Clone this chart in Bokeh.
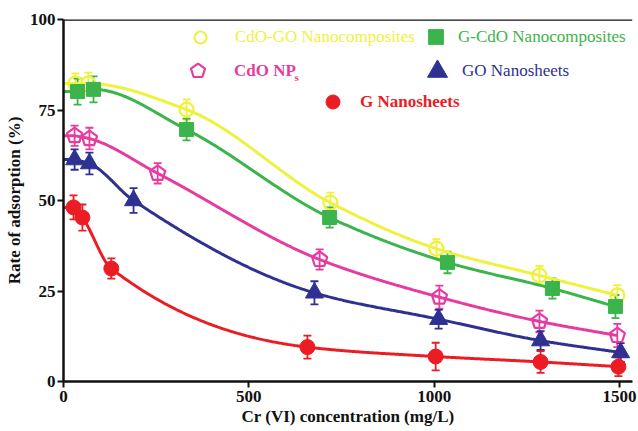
import numpy as np
from bokeh.plotting import figure
from bokeh.models import (ColumnDataSource, Whisker, TeeHead, Legend, LegendItem,
                          Span, Label, Range1d, FixedTicker)
from bokeh.embed import file_html
from bokeh.resources import INLINE

# ---------------- data ----------------
cdo_go_x = [32, 67, 332, 720, 1006, 1284, 1494]
cdo_go_y = [82.3, 82.3, 75.1, 49.4, 36.7, 29.3, 23.8]
cdo_go_e = [2.8, 3.0, 2.8, 2.8, 2.6, 2.6, 2.8]

g_cdo_x = [38, 81, 332, 718, 1036, 1319, 1489]
g_cdo_y = [80.1, 80.7, 69.6, 45.3, 32.9, 25.7, 20.7]
g_cdo_e = [3.6, 3.6, 3.0, 2.8, 3.0, 2.8, 3.2]

cdo_np_x = [30, 70, 254, 691, 1014, 1284, 1494]
cdo_np_y = [67.9, 67.1, 57.5, 33.7, 23.3, 16.6, 12.7]
cdo_np_e = [2.8, 3.0, 2.8, 2.8, 3.2, 3.0, 3.2]

go_x = [30, 70, 189, 677, 1012, 1287, 1503]
go_y = [61.3, 60.2, 50.0, 24.5, 17.2, 11.3, 8.0]
go_e = [2.8, 3.0, 3.4, 3.2, 2.6, 2.6, 2.6]

g_x = [27, 51, 129, 658, 1004, 1287, 1497]
g_y = [48.1, 45.3, 31.2, 9.5, 6.9, 5.4, 4.1]
g_e = [3.3, 3.6, 2.8, 3.2, 3.8, 3.0, 2.6]

x_ticks = [0, 500, 1000, 1500]
y_ticks = [0, 25, 50, 75, 100]

labels = ["CdO-GO Nanocomposites", "G-CdO Nanocomposites", "CdO NP", "GO Nanosheets", "G Nanosheets"]
colors = ["#eef23c", "#3bb44b", "#e63c9f", "#2e3192", "#ec1c24"]

FONT = "Liberation Serif"


def pchip(x, y, xs):
    x = np.asarray(x, float)
    y = np.asarray(y, float)
    h = np.diff(x)
    d = np.diff(y) / h
    n = len(x)
    m = np.zeros(n)
    m[0] = d[0]
    m[-1] = d[-1]
    for k in range(1, n - 1):
        if d[k - 1] * d[k] > 0:
            w1 = 2 * h[k] + h[k - 1]
            w2 = h[k] + 2 * h[k - 1]
            m[k] = (w1 + w2) / (w1 / d[k - 1] + w2 / d[k])
    idx = np.clip(np.searchsorted(x, xs) - 1, 0, n - 2)
    t = (xs - x[idx]) / h[idx]
    h00 = 2 * t**3 - 3 * t**2 + 1
    h10 = t**3 - 2 * t**2 + t
    h01 = -2 * t**3 + 3 * t**2
    h11 = t**3 - t**2
    ys = h00 * y[idx] + h10 * h[idx] * m[idx] + h01 * y[idx + 1] + h11 * h[idx] * m[idx + 1]
    ys[xs < x[0]] = y[0]
    return ys


p = figure(width=638, height=431, output_backend="svg", toolbar_location=None,
           x_range=Range1d(0, 1535), y_range=Range1d(0, 100),
           min_border_left=63, min_border_right=6, min_border_top=19, min_border_bottom=50)
p.background_fill_color = "white"
p.border_fill_color = "white"
p.outline_line_color = None
p.xgrid.visible = False
p.ygrid.visible = False

for ax in (p.xaxis[0], p.yaxis[0]):
    ax.axis_line_width = 2.5
    ax.axis_line_color = "#111111"
    ax.major_tick_line_width = 2
    ax.major_tick_line_color = "#111111"
    ax.major_tick_in = 0
    ax.major_tick_out = 6
    ax.minor_tick_line_color = None
    ax.major_label_text_font = FONT
    ax.major_label_text_font_style = "bold"
    ax.major_label_text_font_size = "17px"
    ax.major_label_text_color = "#111111"
    ax.axis_label_text_font = FONT
    ax.axis_label_text_font_style = "bold"
    ax.axis_label_text_font_size = "17px"
    ax.axis_label_text_color = "#111111"

p.xaxis.ticker = FixedTicker(ticks=x_ticks)
p.yaxis.ticker = FixedTicker(ticks=y_ticks)
p.xaxis.axis_label = "Cr (VI) concentration (mg/L)"
p.yaxis.axis_label = "Rate of adsorption (%)"
p.xaxis.major_label_standoff = 3
p.xaxis.axis_label_standoff = 2
p.yaxis.major_label_standoff = 2
p.yaxis.axis_label_standoff = 3

p.add_layout(Span(location=100, dimension="width", line_color="#111111", line_width=2.5))

series = [
    (cdo_go_x, cdo_go_y, cdo_go_e),
    (g_cdo_x, g_cdo_y, g_cdo_e),
    (cdo_np_x, cdo_np_y, cdo_np_e),
    (go_x, go_y, go_e),
    (g_x, g_y, g_e),
]

# curves
for (xs_, ys_, es_), c in zip(series, colors):
    xx = np.linspace(0, xs_[-1], 500)
    p.line(xx, pchip(xs_, ys_, xx), line_color=c, line_width=3)

# error bars
sources = []
for (xs_, ys_, es_), c in zip(series, colors):
    src = ColumnDataSource(dict(x=xs_, y=ys_,
                                upper=[a + b for a, b in zip(ys_, es_)],
                                lower=[a - b for a, b in zip(ys_, es_)]))
    sources.append(src)
    p.add_layout(Whisker(base="x", upper="upper", lower="lower", source=src,
                         line_color=c, line_width=1.8,
                         upper_head=TeeHead(size=8, line_color=c, line_width=1.8),
                         lower_head=TeeHead(size=8, line_color=c, line_width=1.8)))

# markers
r_yel = p.scatter("x", "y", source=sources[0], marker="circle", size=14,
                  fill_color=None, line_color=colors[0], line_width=2.2)
r_grn = p.scatter("x", "y", source=sources[1], marker="square", size=14,
                  fill_color=colors[1], line_color=colors[1])
r_mag = p.ngon("x", "y", source=sources[2], radius=8, radius_units="screen", n=5,
               angle=0, fill_color=None, line_color=colors[2], line_width=2.2)
r_blu = p.scatter("x", "y", source=sources[3], marker="triangle", size=18,
                  fill_color=colors[3], line_color=colors[3])
r_red = p.scatter("x", "y", source=sources[4], marker="circle", size=15,
                  fill_color=colors[4], line_color=colors[4])

# legends (each placed individually, in frame screen coordinates)
leg_specs = [
    (r_yel, labels[0], colors[0], "normal", 30, (122, 329), 20),
    (r_grn, labels[1], colors[1], "normal", 37, (354, 326), 4),
    (r_mag, labels[2], colors[2], "bold", 37, (116, 292), 18),
    (r_blu, labels[3], colors[3], "normal", 50, (349, 285), 0),
    (r_red, labels[4], colors[4], "bold", 35, (252, 262), 10),
]
for r, lab, c, style, gsz, loc, stand in leg_specs:
    lg = Legend(items=[LegendItem(label=lab, renderers=[r])], location=loc,
                glyph_width=gsz, glyph_height=gsz, label_standoff=stand,
                padding=0, margin=0, spacing=0,
                border_line_color=None, background_fill_alpha=0,
                label_text_font=FONT, label_text_font_size="17px",
                label_text_font_style=style, label_text_color=c)
    p.add_layout(lg)

p.add_layout(Label(x=231, y=305, x_units="screen", y_units="screen", text="s",
                   text_font=FONT, text_font_style="bold", text_font_size="11px",
                   text_color=colors[2], text_baseline="middle"))

open("out.html", "w").write(file_html(p, INLINE))
